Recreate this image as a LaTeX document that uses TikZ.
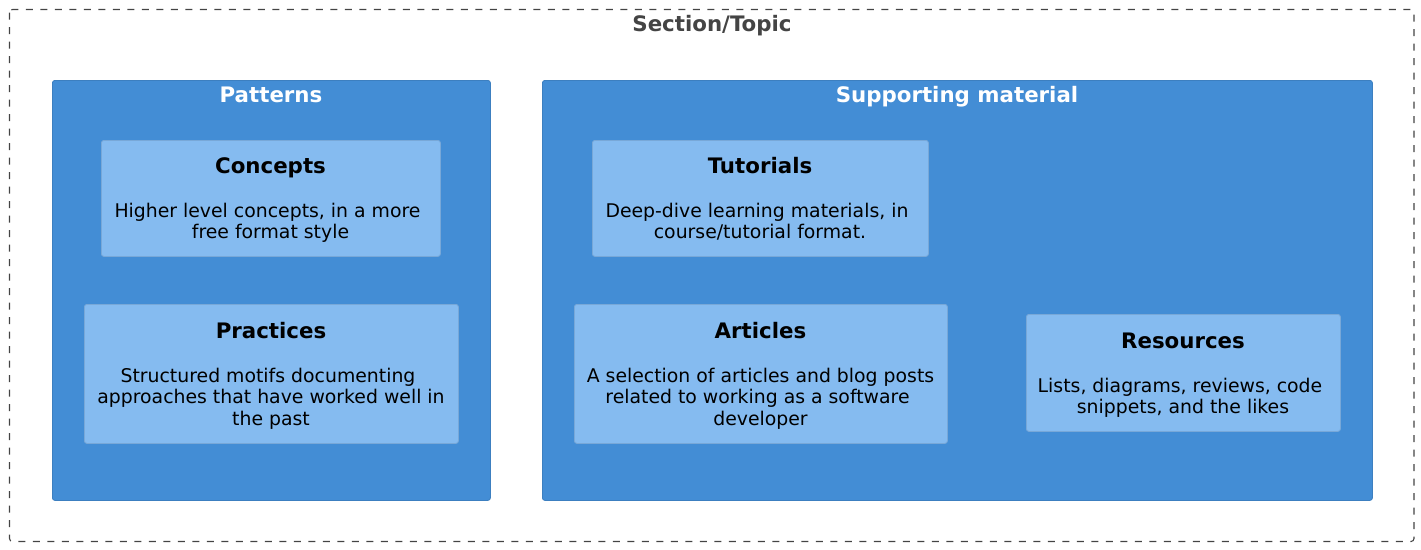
\documentclass[tikz,border=0pt]{standalone}
\usepackage{fontspec}
\setmainfont{DejaVu Sans}
\definecolor{groupfill}{HTML}{438DD5}
\definecolor{groupline}{HTML}{3C7FC0}
\definecolor{itemfill}{HTML}{85BBF0}
\definecolor{itemline}{HTML}{78A8D8}
\definecolor{frameline}{HTML}{444444}
\tikzset{
  groupbox/.style={draw=groupline, fill=groupfill, line width=0.8pt, rounded corners=2.5pt,
    anchor=north west, inner sep=0pt},
  itembox/.style={draw=itemline, fill=itemfill, line width=0.8pt, rounded corners=2.5pt,
    anchor=north west, inner sep=0pt},
  grouptitle/.style={anchor=base, inner sep=0pt, text=white, font={\fontsize{21.33}{24}\selectfont\bfseries}},
  itemtitle/.style={anchor=base, inner sep=0pt, text=black, font={\fontsize{21.33}{24}\selectfont\bfseries}},
  itemdesc/.style={anchor=base, inner sep=0pt, text=black, font={\fontsize{18.85}{21.7}\selectfont}},
}
\newcommand{\descpar}[2]{\parbox[t]{#1pt}{\centering #2}}
\newcommand{\tsp}{\kern0.318em}
\begin{document}
\begin{tikzpicture}[x=1pt,y=-1pt]
\useasboundingbox (0,0) rectangle (1421,549);
% outer frame
\draw[frameline, line width=1.1pt, dash pattern=on 7pt off 7.5pt, rounded corners=3pt] (9.5,9.5) rectangle (1414,541.5);
\node[anchor=base, inner sep=0pt, text=frameline, font={\fontsize{21.33}{24}\selectfont\bfseries}] (sectiontitle) at (712,31.5) {Section/Topic};

% Patterns group
\node[groupbox, minimum width=438pt, minimum height=420pt] (patterns) at (52,80) {};
\node[grouptitle] (patternstitle) at (271,102) {Patterns};

\node[itembox, minimum width=339pt, minimum height=116pt] (concepts) at (101,140) {};
\node[itemtitle] (conceptstitle) at (270.5,173) {Concepts};
\node[itemdesc] (conceptsdesc) at (270.5,217) {\descpar{339}{Higher level concepts, in a more\tsp\\ free format style}};

\node[itembox, minimum width=374pt, minimum height=139pt] (practices) at (84,304) {};
\node[itemtitle] (practicestitle) at (271,338) {Practices};
\node[itemdesc] (practicesdesc) at (271,382) {\descpar{374}{Structured motifs documenting\tsp\\ approaches that have worked well in\\ the past}};

% Supporting material group
\node[groupbox, minimum width=830pt, minimum height=420pt] (support) at (542,80) {};
\node[grouptitle] (supporttitle) at (957,102) {Supporting material};

\node[itembox, minimum width=336pt, minimum height=116pt] (tutorials) at (592,140) {};
\node[itemtitle] (tutorialstitle) at (760,173) {Tutorials};
\node[itemdesc] (tutorialsdesc) at (760,217) {\descpar{336}{Deep-dive learning materials, in\tsp\\ course/tutorial format.}};

\node[itembox, minimum width=373pt, minimum height=139pt] (articles) at (574,304) {};
\node[itemtitle] (articlestitle) at (760.5,338) {Articles};
\node[itemdesc] (articlesdesc) at (760.5,382) {\descpar{373}{A selection of articles and blog posts\\ related to working as a software\tsp\\ developer}};

\node[itembox, minimum width=314pt, minimum height=117pt] (resources) at (1026,314) {};
\node[itemtitle] (resourcestitle) at (1183,348) {Resources};
\node[itemdesc] (resourcesdesc) at (1183,392) {\descpar{314}{Lists, diagrams, reviews, code\tsp\\ snippets, and the likes}};
\end{tikzpicture}
\end{document}
